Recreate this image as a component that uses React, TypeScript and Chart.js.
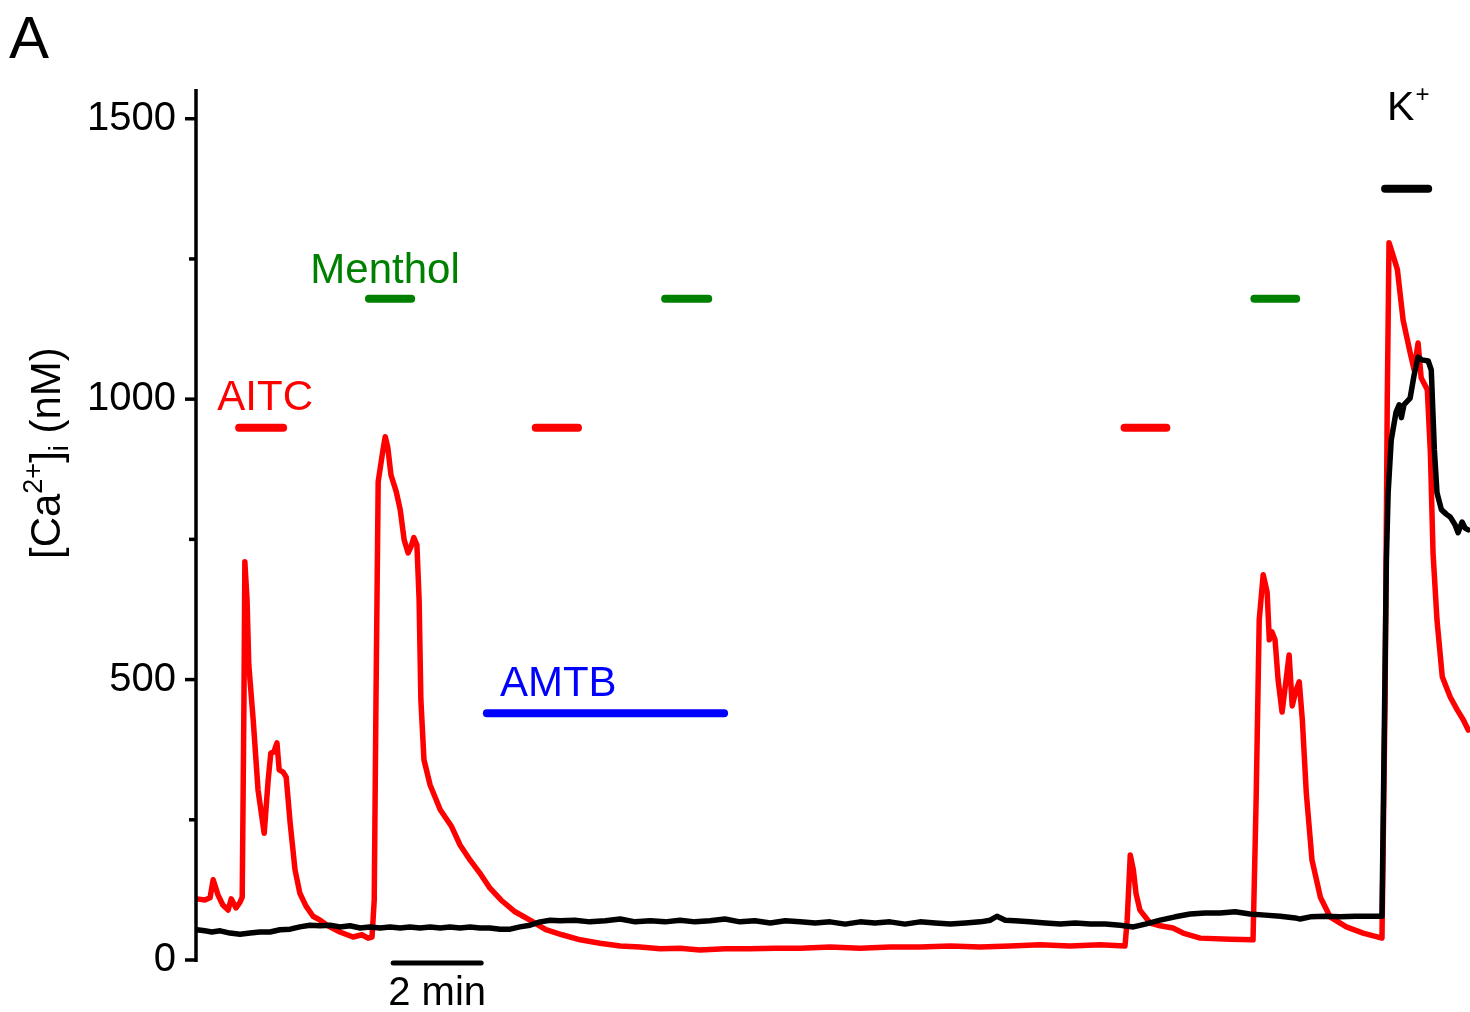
import React, { useEffect, useRef } from 'react';
import { Chart, registerables } from 'chart.js';

Chart.register(...registerables);

// ---- data (time in minutes, [Ca2+]i in nM) ----
const redTime = [
  0.02, 0.2, 0.32, 0.39, 0.5, 0.61, 0.73, 0.8, 0.91, 1.0, 1.05, 1.09, 1.11, 1.16, 1.2, 1.3, 1.41, 1.55, 1.64, 1.7,
  1.77, 1.84, 1.89, 1.98, 2.05, 2.14, 2.25, 2.36, 2.5, 2.66, 2.82, 2.98, 3.27, 3.57, 3.77, 3.91, 4.0, 4.05, 4.09, 4.14,
  4.25, 4.3, 4.36, 4.43, 4.55, 4.64, 4.73, 4.82, 4.89, 4.95, 5.02, 5.07, 5.11, 5.18, 5.32, 5.55, 5.8, 6.0, 6.23, 6.45,
  6.68, 6.93, 7.25, 7.59, 7.95, 8.32, 8.73, 9.18, 9.64, 10.09, 10.55, 11.0, 11.45, 12.02, 12.59, 13.16, 13.73, 14.41, 15.09, 15.77,
  16.45, 17.14, 17.82, 18.5, 19.18, 19.86, 20.55, 21.11, 21.16, 21.23, 21.3, 21.36, 21.45, 21.68, 21.91, 22.2, 22.43, 22.82, 23.5, 24.02,
  24.09, 24.16, 24.25, 24.34, 24.39, 24.45, 24.52, 24.59, 24.68, 24.77, 24.84, 24.91, 25.0, 25.07, 25.14, 25.23, 25.36, 25.55, 25.77, 26.14,
  26.52, 26.95, 27.02, 27.07, 27.11, 27.2, 27.3, 27.43, 27.59, 27.68, 27.77, 27.84, 27.98, 28.05, 28.11, 28.2, 28.32, 28.5, 28.66, 28.8,
  28.91,
];
const redCa = [
  109, 107, 111, 143, 116, 98, 89, 109, 93, 103, 112, 464, 710, 642, 526, 428, 303, 226, 321, 369,
  371, 387, 339, 335, 326, 244, 161, 119, 96, 78, 71, 62, 50, 41, 45, 39, 41, 107, 464, 853,
  910, 933, 913, 865, 835, 803, 749, 726, 738, 753, 740, 642, 464, 357, 312, 268, 239, 205, 178, 155,
  128, 107, 86, 71, 54, 45, 36, 30, 25, 23, 20, 21, 18, 20, 20, 21, 21, 23, 21, 23,
  23, 25, 23, 25, 27, 25, 27, 25, 71, 187, 161, 119, 89, 66, 61, 57, 48, 39, 37, 36,
  285, 606, 687, 656, 571, 585, 571, 499, 442, 499, 544, 453, 482, 496, 428, 298, 178, 112, 77, 59,
  48, 39, 464, 999, 1279, 1257, 1231, 1141, 1083, 1052, 1100, 1038, 1017, 904, 726, 606, 505, 469, 446, 428,
  410,
];

const blackTime = [
  0.02, 0.2, 0.36, 0.55, 0.77, 1.0, 1.23, 1.45, 1.68, 1.91, 2.14, 2.36, 2.59, 2.82, 3.05, 3.27, 3.5, 3.73, 3.95, 4.18,
  4.41, 4.64, 4.86, 5.09, 5.32, 5.55, 5.77, 6.0, 6.23, 6.45, 6.68, 6.91, 7.14, 7.36, 7.59, 7.82, 8.05, 8.27, 8.61, 8.95,
  9.3, 9.64, 9.98, 10.32, 10.66, 11.0, 11.34, 11.68, 12.02, 12.36, 12.7, 13.05, 13.39, 13.73, 14.07, 14.41, 14.75, 15.09, 15.43, 15.77,
  16.11, 16.45, 16.8, 17.14, 17.48, 17.82, 18.05, 18.2, 18.39, 18.61, 18.95, 19.3, 19.64, 19.98, 20.32, 20.66, 21.0, 21.3, 21.57, 21.91,
  22.25, 22.59, 22.93, 23.27, 23.61, 23.95, 24.3, 24.64, 24.98, 25.09, 25.32, 25.66, 26.0, 26.34, 26.68, 26.95, 27.0, 27.05, 27.09, 27.16,
  27.27, 27.34, 27.39, 27.45, 27.59, 27.68, 27.77, 27.86, 28.0, 28.07, 28.14, 28.2, 28.3, 28.41, 28.5, 28.61, 28.68, 28.77, 28.84, 28.91,
];
const blackCa = [
  54, 52, 50, 52, 48, 46, 48, 50, 50, 54, 55, 59, 62, 61, 62, 59, 61, 57, 59, 57,
  59, 57, 59, 57, 59, 57, 59, 57, 59, 57, 57, 55, 55, 59, 62, 68, 71, 70, 71, 68,
  70, 73, 68, 70, 68, 71, 68, 70, 73, 68, 70, 66, 70, 68, 66, 68, 64, 68, 66, 68,
  64, 68, 66, 64, 66, 68, 71, 78, 71, 70, 68, 66, 64, 66, 64, 64, 62, 59, 64, 71,
  77, 82, 84, 84, 86, 82, 80, 78, 75, 73, 77, 78, 77, 78, 78, 78, 392, 713, 833, 927,
  977, 990, 967, 990, 1002, 1043, 1075, 1070, 1068, 1052, 910, 833, 803, 795, 790, 776, 762, 781, 770, 767,
];

const yTickValues = [0, 250, 500, 750, 1000, 1250, 1500];
const yLabelledTicks = [0, 500, 1000, 1500];

// drug applications: start / end (min), drawn at a level (nM)
const aitcStart = [0.98, 7.72, 21.1];
const aitcEnd = [1.98, 8.68, 22.05];
const aitcLevel = 949;
const mentholStart = [3.93, 10.66, 24.05];
const mentholEnd = [4.89, 11.64, 25.0];
const mentholLevel = 1179;
const amtbStart = [6.61];
const amtbEnd = [12.0];
const amtbLevel = 440;
const kStart = [27.02];
const kEnd = [28.0];
const kLevel = 1375;
const scaleBarStart = 4.48;
const scaleBarMinutes = 2;

const FONT = '"Liberation Sans", Arial, Helvetica, sans-serif';

export default function App() {
  const ref = useRef<HTMLCanvasElement | null>(null);

  useEffect(() => {
    const canvas = ref.current;
    if (!canvas) return;

    const overlay = {
      id: 'overlay',
      afterDraw(chart: any) {
        const ctx = chart.ctx as CanvasRenderingContext2D;
        const xs = chart.scales.x;
        const ys = chart.scales.y;
        const area = chart.chartArea;
        ctx.save();

        // y axis line
        const ax = area.left;
        ctx.strokeStyle = '#000';
        ctx.lineWidth = 3.5;
        ctx.lineCap = 'butt';
        ctx.beginPath();
        ctx.moveTo(ax, area.top);
        ctx.lineTo(ax, area.bottom + 2);
        ctx.stroke();
        // ticks
        ctx.lineWidth = 3.5;
        yTickValues.forEach((v) => {
          const py = ys.getPixelForValue(v);
          const len = yLabelledTicks.includes(v) ? 11 : 7;
          ctx.beginPath();
          ctx.moveTo(ax - len, py);
          ctx.lineTo(ax, py);
          ctx.stroke();
        });

        // drug bars
        const bar = (s: number[], e: number[], lvl: number, color: string) => {
          ctx.strokeStyle = color;
          ctx.lineWidth = 8;
          ctx.lineCap = 'round';
          s.forEach((st, i) => {
            const y = ys.getPixelForValue(lvl);
            ctx.beginPath();
            ctx.moveTo(xs.getPixelForValue(st), y);
            ctx.lineTo(xs.getPixelForValue(e[i]), y);
            ctx.stroke();
          });
        };
        bar(aitcStart, aitcEnd, aitcLevel, '#ff0000');
        bar(mentholStart, mentholEnd, mentholLevel, '#008000');
        bar(amtbStart, amtbEnd, amtbLevel, '#0000ff');
        bar(kStart, kEnd, kLevel, '#000000');

        // drug labels
        ctx.textBaseline = 'alphabetic';
        ctx.font = `42px ${FONT}`;
        ctx.textAlign = 'center';
        ctx.fillStyle = '#ff0000';
        ctx.fillText('AITC', (xs.getPixelForValue(aitcStart[0]) + xs.getPixelForValue(aitcEnd[0])) / 2 + 4, ys.getPixelForValue(aitcLevel) - 18);
        ctx.fillStyle = '#008000';
        ctx.fillText('Menthol', (xs.getPixelForValue(mentholStart[0]) + xs.getPixelForValue(mentholEnd[0])) / 2 - 5, ys.getPixelForValue(mentholLevel) - 16);
        ctx.fillStyle = '#0000ff';
        ctx.textAlign = 'left';
        ctx.fillText('AMTB', xs.getPixelForValue(amtbStart[0]) + 13, ys.getPixelForValue(amtbLevel) - 17);
        ctx.fillStyle = '#000';
        ctx.font = `41px ${FONT}`;
        const kx = xs.getPixelForValue(kStart[0]) + 2;
        const ky = ys.getPixelForValue(kLevel) - 69;
        ctx.fillText('K', kx, ky);
        const kw = ctx.measureText('K').width;
        ctx.font = `24px ${FONT}`;
        ctx.fillText('+', kx + kw + 1, ky - 18);

        // time scale bar
        const sbY = area.bottom + 3;
        const sx0 = xs.getPixelForValue(scaleBarStart);
        const sx1 = xs.getPixelForValue(scaleBarStart + scaleBarMinutes);
        ctx.strokeStyle = '#000';
        ctx.lineWidth = 5;
        ctx.lineCap = 'round';
        ctx.beginPath();
        ctx.moveTo(sx0, sbY);
        ctx.lineTo(sx1, sbY);
        ctx.stroke();
        ctx.font = `40px ${FONT}`;
        ctx.textAlign = 'center';
        ctx.fillStyle = '#000';
        ctx.fillText(`${scaleBarMinutes} min`, (sx0 + sx1) / 2, 1005);

        // panel letter
        ctx.textAlign = 'left';
        ctx.font = `60px ${FONT}`;
        ctx.fillText('A', 9, 58);

        // y axis title  [Ca2+]i (nM)
        ctx.translate(60, 559);
        ctx.rotate(-Math.PI / 2);
        ctx.textAlign = 'left';
        let x = 0;
        const part = (t: string, size: number, dy: number) => {
          ctx.font = `${size}px ${FONT}`;
          ctx.fillText(t, x, dy);
          x += ctx.measureText(t).width;
        };
        part('[Ca', 42, 0);
        part('2+', 27, -18);
        part(']', 42, 0);
        part('i', 27, 8);
        part(' (nM)', 42, 0);

        ctx.restore();
      },
    };

    const chart = new Chart(canvas, {
      type: 'line',
      data: {
        datasets: [
          {
            label: 'black',
            data: blackTime.map((t, i) => ({ x: t, y: blackCa[i] })),
            borderColor: '#000000',
            borderWidth: 5.5,
            pointRadius: 0,
            tension: 0,
            borderJoinStyle: 'round',
            borderCapStyle: 'round',
            fill: false,
            order: 0,
          },
          {
            label: 'red',
            data: redTime.map((t, i) => ({ x: t, y: redCa[i] })),
            borderColor: '#ff0000',
            borderWidth: 5.5,
            pointRadius: 0,
            tension: 0,
            borderJoinStyle: 'round',
            borderCapStyle: 'round',
            fill: false,
            order: 1,
          },
        ],
      },
      options: {
        animation: false,
        responsive: false,
        devicePixelRatio: 1,
        layout: { padding: { left: 0, right: 0, top: 89, bottom: 52 } },
        plugins: { legend: { display: false }, tooltip: { enabled: false }, title: { display: false } },
        scales: {
          x: { type: 'linear', min: 0, max: 28.95, display: false },
          y: {
            type: 'linear',
            min: 0,
            max: 1553,
            grid: { display: false, drawTicks: false },
            border: { display: false },
            afterBuildTicks: (s: any) => {
              s.ticks = yTickValues.map((v) => ({ value: v }));
            },
            afterFit: (s: any) => {
              s.width = 196;
            },
            ticks: {
              autoSkip: false,
              padding: 20,
              color: '#000',
              font: { family: FONT, size: 40 },
              callback: (v: any) => (yLabelledTicks.includes(Number(v)) ? String(v) : ''),
            },
          },
        },
      } as any,
      plugins: [overlay],
    });
    return () => chart.destroy();
  }, []);

  return (
    <div style={{ position: 'absolute', left: 0, top: 0, width: 1470, height: 1012, background: '#fff' }}>
      <canvas ref={ref} width={1470} height={1012} style={{ display: 'block', width: 1470, height: 1012 }} />
    </div>
  );
}
